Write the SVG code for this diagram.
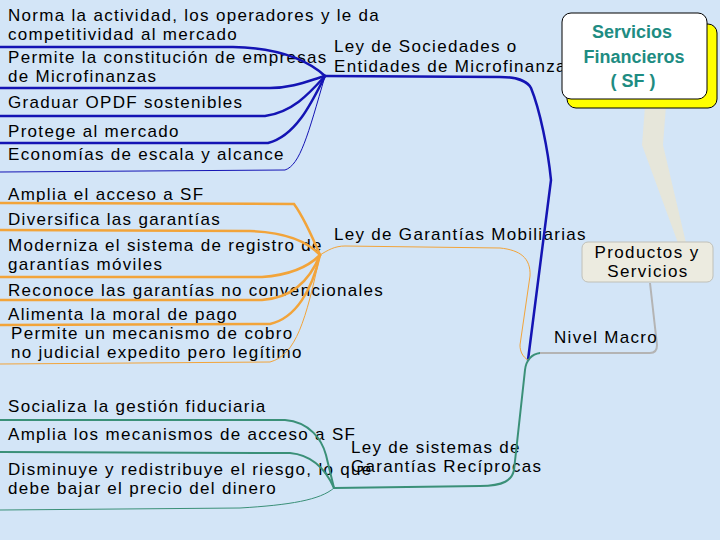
<svg xmlns="http://www.w3.org/2000/svg" width="720" height="540" viewBox="0 0 720 540">
<defs>
<style>
.t{font-family:"Liberation Sans",Arial,sans-serif;font-size:17px;fill:#000;letter-spacing:1.3px}
.sf{font-family:"Liberation Sans",Arial,sans-serif;font-size:18px;font-weight:bold;fill:#1e8c82;text-anchor:middle}
.ps{font-family:"Liberation Sans",Arial,sans-serif;font-size:17px;fill:#000;text-anchor:middle;letter-spacing:1.4px}
.b{fill:none;stroke:#1414b4;stroke-width:2.5;stroke-linecap:round}
.bt{fill:none;stroke:#1414b4;stroke-width:1}
.o{fill:none;stroke:#f2a43a;stroke-width:2.5;stroke-linecap:round}
.ot{fill:none;stroke:#f2a43a;stroke-width:1}
.g{fill:none;stroke:#3a9078;stroke-width:2;stroke-linecap:round}
.gt{fill:none;stroke:#3a9078;stroke-width:1}
</style>
<clipPath id="macroClip"><rect x="540" y="320" width="117" height="40"/></clipPath>
</defs>
<rect width="720" height="540" fill="#d3e5f7"/>

<g id="node-blue-items">
<text class="t" x="8" y="21">Norma la actividad, los operadores y le da</text>
<text class="t" x="8" y="40">competitividad al mercado</text>
<text class="t" x="8" y="63">Permite la constitución de empresas</text>
<text class="t" x="8" y="82">de Microfinanzas</text>
<text class="t" x="8" y="108">Graduar OPDF sostenibles</text>
<text class="t" x="8" y="137">Protege al mercado</text>
<text class="t" x="8" y="160">Economías de escala y alcance</text>
</g>
<g id="node-ley-sociedades">
<text class="t" x="334" y="52">Ley de Sociedades o</text>
<text class="t" x="334" y="72">Entidades de Microfinanzas</text>
</g>

<g id="node-orange-items">
<text class="t" x="8" y="200">Amplia el acceso a SF</text>
<text class="t" x="8" y="225">Diversifica las garantías</text>
<text class="t" x="8" y="251">Moderniza el sistema de registro de</text>
<text class="t" x="8" y="270">garantías móviles</text>
<text class="t" x="8" y="296">Reconoce las garantías no convencionales</text>
<text class="t" x="8" y="320">Alimenta la moral de pago</text>
<text class="t" x="11" y="339">Permite un mecanismo de cobro</text>
<text class="t" x="11" y="358">no judicial expedito pero legítimo</text>
</g>
<g id="node-ley-garantias">
<text class="t" x="334" y="240">Ley de Garantías Mobiliarias</text>
</g>

<g id="node-green-items">
<text class="t" x="8" y="412">Socializa la gestión fiduciaria</text>
<text class="t" x="8" y="440">Amplia los mecanismos de acceso a SF</text>
<text class="t" x="8" y="475">Disminuye y redistribuye el riesgo, lo que</text>
<text class="t" x="8" y="494">debe bajar el precio del dinero</text>
</g>
<g id="node-ley-sistemas">
<text class="t" x="351" y="453">Ley de sistemas de</text>
<text class="t" x="351" y="472">Garantías Recíprocas</text>
</g>

<g id="connectors">
<path d="M645,106 L642,145 L678,243 L686,243 L663,145 L666,106 Z" fill="#e6e6da"/>
<path class="b" d="M0,47 L233,47 C275,48 305,58 325,76"/>
<path class="b" d="M0,88 L270,88 C292,88 308,81 325,76"/>
<path class="b" d="M0,116 L265,116 C292,112 308,95 325,76"/>
<path class="b" d="M0,143 L268,143 C296,136 312,102 325,76"/>
<path class="bt" d="M0,172 L285,170 C300,165 308,135 325,76"/>
<path class="b" d="M325,76 L500,77 C518,77 528,82 531,88 C540,110 548,150 551,180 L528,360"/>

<path class="o" d="M0,203 L294,204 C302,215 312,236 320,255"/>
<path class="o" d="M0,230 L250,231 C282,232 306,240 320,255"/>
<path class="o" d="M0,277 L262,277 C292,275 310,265 320,255"/>
<path class="o" d="M0,300 L262,300 C292,298 310,280 320,255"/>
<path class="o" d="M0,325 L270,324 C296,318 312,290 320,255"/>
<path class="ot" d="M0,364 L270,362 C296,355 306,320 320,255"/>
<path class="ot" d="M320,255 C328,250 335,246 345,246 L500,248 C520,250 531,258 530,276 L520,345 C520,352 523,357 528,360"/>

<path class="g" d="M0,420 L285,420 C310,422 322,440 326,455 L334,488"/>
<path class="g" d="M0,452 L290,453 C312,455 326,470 334,488"/>
<path class="gt" d="M0,510 L240,508 C290,505 320,500 334,488"/>
<path class="g" d="M334,488 L480,486 C504,486 512,480 514,470 L525,370 C526,360 532,354 540,353"/>
<path d="M540,353 L650,353 C655,353 657,350 657,345 L650,283" fill="none" stroke="#b4b4b4" stroke-width="2"/>
</g>

<g id="node-sf">
<rect x="567" y="24" width="150" height="84" rx="9" fill="#ffff00" stroke="#000" stroke-width="1"/>
<rect x="562" y="13" width="145" height="86" rx="9" fill="#ffffff" stroke="#000" stroke-width="1"/>
<text class="sf" x="632" y="38">Servicios</text>
<text class="sf" x="634" y="63">Financieros</text>
<text class="sf" x="633" y="87">( SF )</text>
</g>

<g id="node-productos">
<rect x="582" y="242" width="131" height="40" rx="6" fill="#ecebe0" stroke="#c0c0b8" stroke-width="1"/>
<text class="ps" x="647" y="258">Productos y</text>
<text class="ps" x="648" y="277">Servicios</text>
</g>

<g id="node-nivel-macro">
<text class="t" x="554" y="343" clip-path="url(#macroClip)">Nivel Macro</text>
</g>
</svg>
